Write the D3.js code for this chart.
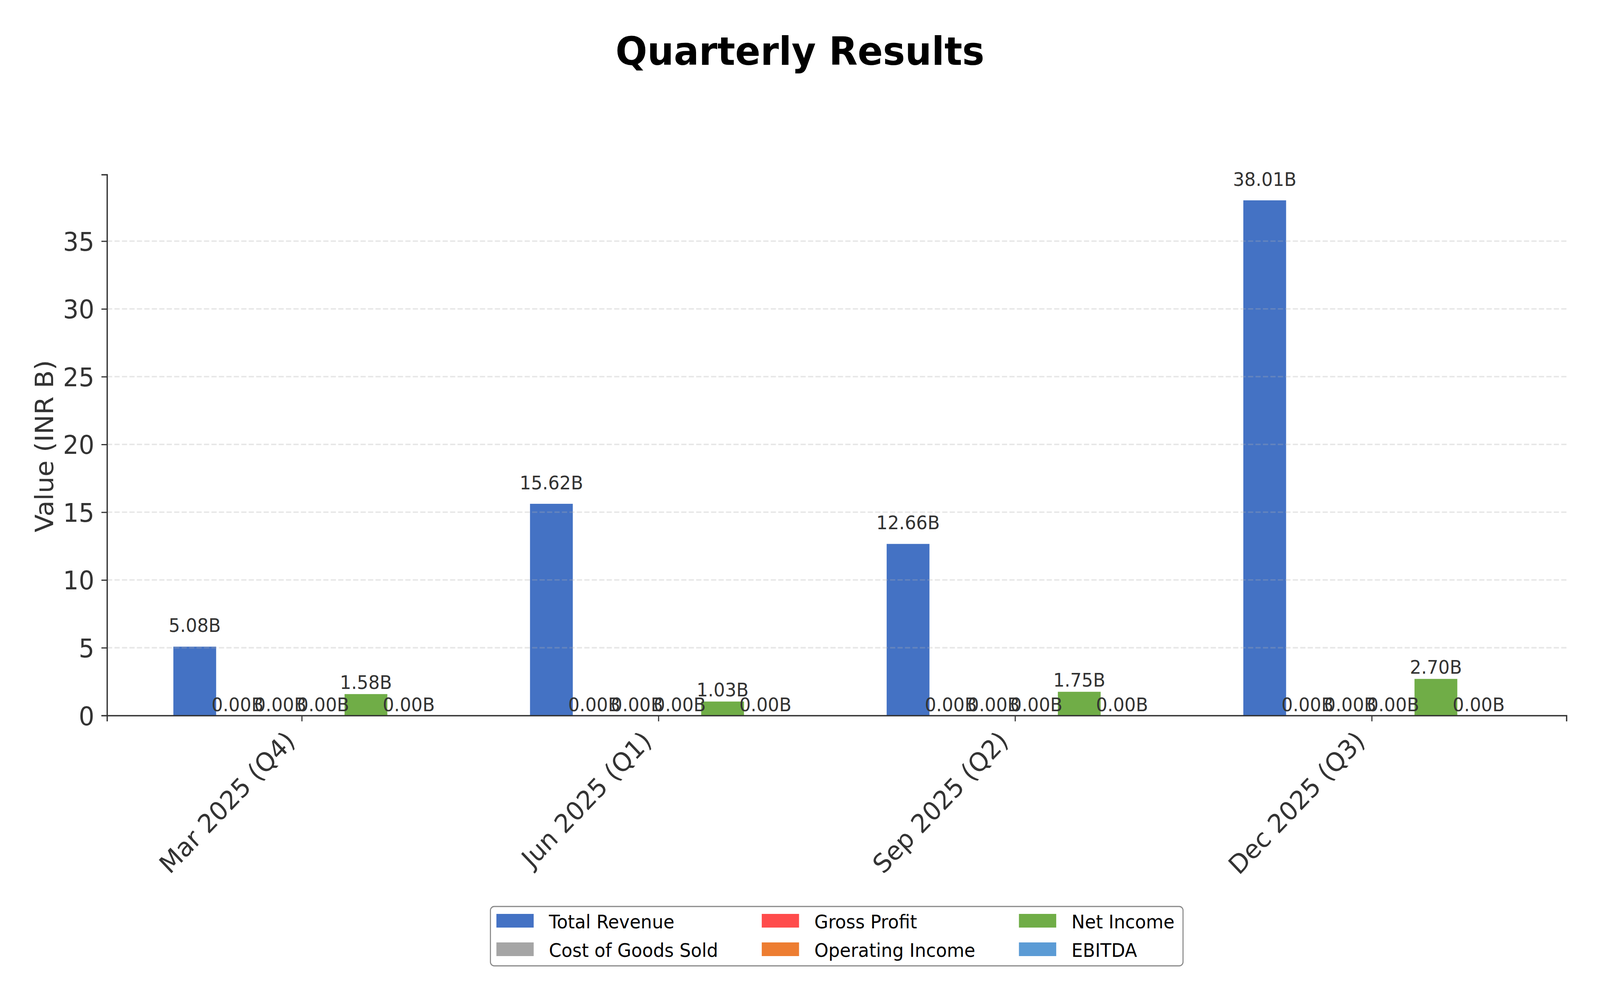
<!DOCTYPE html>
<html>
<head>
<meta charset="utf-8">
<script src="https://cdn.jsdelivr.net/npm/d3@7"></script>
<style>
  html, body { margin: 0; padding: 0; background: #fff; overflow: hidden; }
  #chart { width: 100vw; height: 100vh; }
  svg { display: block; width: 100%; height: 100%; }
  text { font-family: "DejaVu Sans", sans-serif; }
</style>
</head>
<body>
<div id="chart"></div>
<script>
// Quarterly results, values in INR billions
const quarters = ["Mar 2025 (Q4)", "Jun 2025 (Q1)", "Sep 2025 (Q2)", "Dec 2025 (Q3)"];
const seriesNames = ["Total Revenue", "Cost of Goods Sold", "Gross Profit", "Operating Income", "Net Income", "EBITDA"];
const seriesColors = ["#4472C4", "#A5A5A5", "#FF4C4C", "#ED7D31", "#70AD47", "#5B9BD5"];

const totalRevenue    = [5.08, 15.62, 12.66, 38.01];
const costOfGoods     = [0, 0, 0, 0];
const grossProfit     = [0, 0, 0, 0];
const operatingIncome = [0, 0, 0, 0];
const netIncome       = [1.58, 1.03, 1.75, 2.70];
const ebitda          = [0, 0, 0, 0];

const yTicks = [0, 5, 10, 15, 20, 25, 30, 35];

const seriesValues = [totalRevenue, costOfGoods, grossProfit, operatingIncome, netIncome, ebitda];

// drawn in a 4291x2563 frame, stretched to whatever the window is
const W = 4291, H = 2563;
const margin = { top: 447, right: 90, bottom: 731, left: 287 };
const innerW = W - margin.left - margin.right;
const innerH = H - margin.top - margin.bottom;

const barW = 0.12;
const nSeries = seriesNames.length;
const span = (quarters.length - 1) + nSeries * barW;
const xPad = span * 0.05;

const x = d3.scaleLinear()
  .domain([-nSeries / 2 * barW - xPad, quarters.length - 1 + nSeries / 2 * barW + xPad])
  .range([margin.left, margin.left + innerW]);

const yMax = d3.max(seriesValues.flat()) * 1.05;
const y = d3.scaleLinear()
  .domain([0, yMax])
  .range([margin.top + innerH, margin.top]);

const svg = d3.select("#chart").append("svg")
  .attr("viewBox", `0 0 ${W} ${H}`)
  .attr("preserveAspectRatio", "none");

// Title
svg.append("text")
  .attr("x", W / 2)
  .attr("y", 166)
  .attr("text-anchor", "middle")
  .attr("font-size", 100)
  .attr("font-weight", "bold")
  .attr("fill", "#000")
  .text("Quarterly Results");

// Bars
const bars = svg.append("g");
seriesValues.forEach((vals, j) => {
  bars.selectAll(null)
    .data(vals)
    .enter()
    .append("rect")
    .attr("x", (d, i) => x(i + (j - nSeries / 2) * barW))
    .attr("width", x(barW) - x(0))
    .attr("y", d => y(d))
    .attr("height", d => y(0) - y(d))
    .attr("fill", seriesColors[j]);
});

// Grid (drawn over the bars, like matplotlib's default)
svg.append("g")
  .selectAll("line")
  .data(yTicks.filter(t => t > 0))
  .enter()
  .append("line")
  .attr("x1", margin.left)
  .attr("x2", margin.left + innerW)
  .attr("y1", d => y(d))
  .attr("y2", d => y(d))
  .attr("stroke", "#b0b0b0")
  .attr("stroke-opacity", 0.3)
  .attr("stroke-width", 3.8)
  .attr("stroke-dasharray", "14,6");

// Y axis
const yAxis = svg.append("g")
  .attr("transform", `translate(${margin.left},0)`)
  .call(d3.axisLeft(y).tickValues(yTicks).tickSize(15).tickPadding(19).tickFormat(d3.format("d")));
yAxis.select(".domain").attr("stroke", "#333").attr("stroke-width", 3.5);
yAxis.selectAll(".tick line").attr("stroke", "#333").attr("stroke-width", 3);
yAxis.selectAll(".tick text")
  .attr("font-size", 66)
  .attr("fill", "#333")
  .attr("font-family", "DejaVu Sans")
  .attr("dy", null)
  .attr("y", 24);

// X axis
const xAxis = svg.append("g")
  .attr("transform", `translate(0,${margin.top + innerH})`)
  .call(d3.axisBottom(x).tickValues(d3.range(quarters.length)).tickSize(15).tickFormat(i => quarters[i]));
xAxis.select(".domain").attr("stroke", "#333").attr("stroke-width", 3.5);
xAxis.selectAll(".tick line").attr("stroke", "#333").attr("stroke-width", 3);
xAxis.selectAll(".tick text")
  .attr("font-size", 66)
  .attr("fill", "#333")
  .attr("font-family", "DejaVu Sans")
  .attr("text-anchor", "end")
  .attr("dy", null)
  .attr("x", 0)
  .attr("y", 0)
  .attr("transform", "translate(-15,69) rotate(-45)");

// Y label
svg.append("text")
  .attr("transform", `translate(142,${margin.top + innerH / 2 + 3}) rotate(-90)`)
  .attr("text-anchor", "middle")
  .attr("font-size", 67)
  .attr("fill", "#333")
  .text("Value (INR B)");

// Value labels: offset by 2% of the series max, bottom aligned
const labels = svg.append("g");
seriesValues.forEach((vals, j) => {
  const off = d3.max(vals) * 0.02;
  labels.selectAll(null)
    .data(vals)
    .enter()
    .append("text")
    .attr("x", (d, i) => x(i + (j - nSeries / 2 + 0.5) * barW))
    .attr("y", d => y(d + off) - 11)
    .attr("text-anchor", "middle")
    .attr("font-size", 48)
    .attr("fill", "#333")
    .text(d => d.toFixed(2) + "B");
});

// Legend: 3 columns, filled column by column
const legend = svg.append("g");
const nCols = 3, nRows = 2;
const swW = 100, swH = 35, textGap = 41, colGap = 117, padL = 16, padR = 23;
const rowY = [2377, 2450];
const legendText = legend.selectAll("text.lab")
  .data(seriesNames)
  .enter()
  .append("text")
  .attr("class", "lab")
  .attr("font-size", 48)
  .attr("fill", "#000")
  .text(d => d);
const lens = legendText.nodes().map(n => n.getComputedTextLength());
const colW = d3.range(nCols).map(c => d3.max(lens.slice(c * nRows, c * nRows + nRows)));
const boxW = padL + d3.sum(colW) + nCols * (swW + textGap) + (nCols - 1) * colGap + padR;
const boxX = margin.left + innerW / 2 - boxW / 2;
const boxY = 2321, boxH = 152;
legend.insert("rect", "text")
  .attr("x", boxX)
  .attr("y", boxY)
  .attr("width", boxW)
  .attr("height", boxH)
  .attr("rx", 10)
  .attr("fill", "#fff")
  .attr("stroke", "#888")
  .attr("stroke-width", 2.8);
const colX = d3.range(nCols).map(c => boxX + padL + d3.sum(colW.slice(0, c)) + c * (swW + textGap + colGap));
seriesNames.forEach((name, k) => {
  const c = Math.floor(k / nRows), r = k % nRows;
  legend.append("rect")
    .attr("x", colX[c])
    .attr("y", rowY[r] - 37)
    .attr("width", swW)
    .attr("height", swH)
    .attr("fill", seriesColors[k]);
});
legendText
  .attr("x", (d, k) => colX[Math.floor(k / nRows)] + swW + textGap)
  .attr("y", (d, k) => rowY[k % nRows]);
</script>
</body>
</html>
